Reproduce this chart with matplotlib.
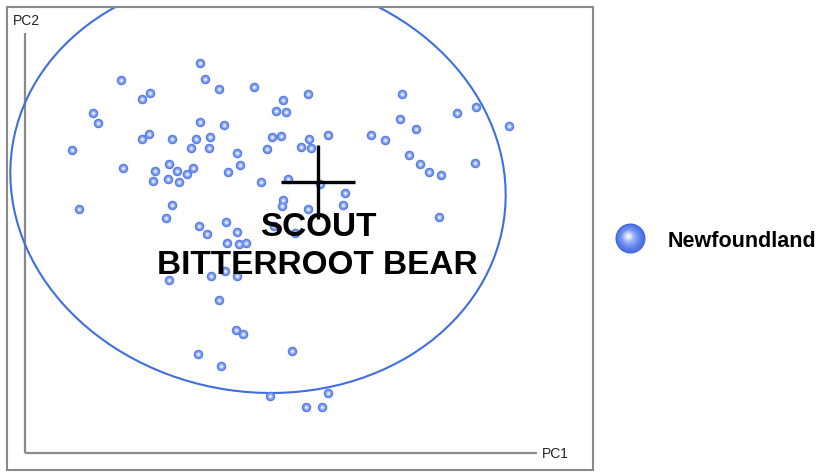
import numpy as np
import matplotlib
matplotlib.use("Agg")
import matplotlib.pyplot as plt
from matplotlib.patches import Ellipse
from matplotlib.colors import to_rgb

plt.rcParams['font.family'] = ['Liberation Sans', 'DejaVu Sans']

# ---- data (PC scores) ----
pc1 = [175, 180, 194, 229, 96, 117, 125, 68, 73, 258, 251, 261, 175, 199, 124, 117, 147, 171, 185,
       166, 184, 247, 256, 276, 242, 212, 47, 215, 144, 98, 130, 152, 168, 162, 128, 143, 154, 203,
       236, 263, 54, 147, 141, 258, 257, 174, 182, 201, 212, 283, 284, 286, 303, 377, 375, 391, 346,
       360, 432, 451, 484, 384, 395, 404, 416, 450, 295, 320, 318, 283, 414, 270, 202, 214, 221, 249,
       200, 212, 186, 144, 194, 211, 218, 173, 196, 267, 245, 303, 281, 297]
pc2 = [390, 374, 364, 366, 373, 354, 360, 340, 330, 353, 342, 341, 331, 328, 319, 314, 314, 314, 316,
       305, 305, 316, 317, 306, 304, 300, 303, 288, 289, 285, 282, 282, 285, 279, 272, 274, 271, 281,
       271, 274, 244, 248, 235, 253, 247, 227, 219, 231, 221, 359, 314, 305, 318, 359, 334, 324, 318,
       313, 340, 346, 327, 298, 289, 281, 278, 290, 269, 260, 248, 244, 236, 220, 210, 209, 210, 227,
       182, 177, 177, 173, 153, 123, 119, 99, 87, 102, 57, 60, 46, 46]
group_name = "Newfoundland"
ellipse_center = (233, 269)
ellipse_width = 497
ellipse_height = 416
ellipse_angle = -8.6
scout_pc = (293, 271)
scout_labels = ["SCOUT", "BITTERROOT BEAR"]
axis_labels = ["PC1", "PC2"]

W, H = 820, 473
fig = plt.figure(figsize=(W / 100, H / 100), dpi=100)

# outer frame axes (pixels 7..593 x 7..470)
ax = fig.add_axes([7 / W, 3 / H, 586 / W, 463 / H])
ax.set_xlim(-18, 568)
ax.set_ylim(-17, 446)
ax.set_xticks([])
ax.set_yticks([])
for s in ax.spines.values():
    s.set_color('#8a8a8a')
    s.set_linewidth(1.5)

# axis lines
ax.plot([0, 0], [0, 420], color='#8a8a8a', lw=1.6, solid_capstyle='butt', zorder=1)
ax.plot([0, 512], [0, 0], color='#8a8a8a', lw=1.6, solid_capstyle='butt', zorder=1)
ax.text(517, -1, axis_labels[0], ha='left', va='center', fontsize=10, color='#222222')
ax.text(-12, 432, axis_labels[1], ha='left', va='center', fontsize=10, color='#222222')

# confidence ellipse
ell = Ellipse(ellipse_center, ellipse_width, ellipse_height, angle=ellipse_angle,
              fill=False, edgecolor='#3f6de2', lw=1.5, zorder=2)
ax.add_patch(ell)

# shaded sphere points
edge = np.array(to_rgb('#4f76e4'))
mid = np.array(to_rgb('#88a5f4'))
center = np.array(to_rgb('#f2f6ff'))
n_layers = 7
diam_px = 9.5
for i in range(n_layers):
    f = i / (n_layers - 1)
    d = diam_px * (1 - 0.82 * f) * 0.72  # px -> pt
    if f < 0.5:
        c = edge + (mid - edge) * (f / 0.5)
    else:
        c = mid + (center - mid) * ((f - 0.5) / 0.5)
    ax.scatter(pc1, pc2, s=d ** 2, color=c, linewidths=0, zorder=3 + i * 0.01)

# scout cross
arm = 37
ax.plot([scout_pc[0] - arm, scout_pc[0] + arm], [scout_pc[1], scout_pc[1]],
        color='black', lw=2.4, solid_capstyle='butt', zorder=5)
ax.plot([scout_pc[0], scout_pc[0]], [scout_pc[1] - arm, scout_pc[1] + arm],
        color='black', lw=2.4, solid_capstyle='butt', zorder=5)
ax.text(293, 225, scout_labels[0], ha='center', va='center', fontsize=24,
        fontweight='bold', color='black', zorder=6)
ax.text(292, 188, scout_labels[1], ha='center', va='center', fontsize=24,
        fontweight='bold', color='black', zorder=6)

# legend
lax = fig.add_axes([(630 - 20) / W, 1 - (238 + 20) / H, 40 / W, 40 / H])
lax.set_xlim(-1, 1)
lax.set_ylim(-1, 1)
lax.axis('off')
ledge = np.array(to_rgb('#3f66e0'))
lmid = np.array(to_rgb('#7d9cf2'))
lcen = np.array(to_rgb('#f4f7ff'))
nl = 24
for i in range(nl):
    f = i / (nl - 1)
    d = 30 * (1 - 0.92 * f) * 0.72
    if f < 0.55:
        c = ledge + (lmid - ledge) * (f / 0.55)
    else:
        c = lmid + (lcen - lmid) * ((f - 0.55) / 0.45)
    off = -0.12 * f
    lax.scatter([off], [-off], s=d ** 2, color=c, linewidths=0)
fig.text(668 / W, 1 - 241 / H, group_name, ha='left', va='center', fontsize=15.5,
         fontweight='bold', color='black')

fig.savefig('out.png', dpi=100)
